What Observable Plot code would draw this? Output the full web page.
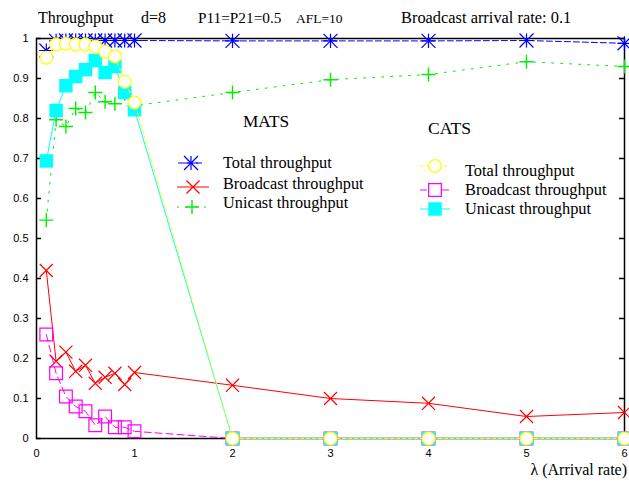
<!DOCTYPE html>
<html>
<head>
<meta charset="utf-8">
<script src="https://cdn.jsdelivr.net/npm/d3@7"></script>
<script src="https://cdn.jsdelivr.net/npm/@observablehq/plot@0.6"></script>
<style>
  html, body { margin: 0; padding: 0; background: white; }
  #wrap { position: relative; width: 629px; height: 482px; }
  #overlay { position: absolute; left: 0; top: 0; pointer-events: none; }
  #overlay text { font-family: "Liberation Serif", "Times New Roman", serif; fill: black; }
</style>
</head>
<body>
<div id="wrap"></div>
<script>
// ---- data ----
const arrivalRate = [0.1, 0.2, 0.3, 0.4, 0.5, 0.6, 0.7, 0.8, 0.9, 1.0, 2, 3, 4, 5, 6];
const matsTotal     = [0.970, 0.994, 0.995, 0.995, 0.995, 0.995, 0.995, 0.995, 0.995, 0.995, 0.994, 0.994, 0.994, 0.995, 0.988];
const matsBroadcast = [0.420, 0.193, 0.216, 0.168, 0.183, 0.138, 0.153, 0.163, 0.135, 0.165, 0.133, 0.100, 0.088, 0.055, 0.065];
const matsUnicast   = [0.546, 0.797, 0.780, 0.825, 0.815, 0.865, 0.842, 0.837, 0.862, 0.832, 0.865, 0.897, 0.910, 0.942, 0.930];
const catsTotal     = [0.952, 0.985, 0.987, 0.985, 0.985, 0.980, 0.967, 0.955, 0.892, 0.840, 0, 0, 0, 0, 0];
const catsBroadcast = [0.260, 0.163, 0.105, 0.080, 0.068, 0.033, 0.055, 0.028, 0.028, 0.018, 0, 0, 0, 0, 0];
const catsUnicast   = [0.694, 0.820, 0.882, 0.905, 0.922, 0.945, 0.915, 0.930, 0.865, 0.822, 0, 0, 0, 0, 0];

const xTicks = [0, 1, 2, 3, 4, 5, 6];
const xTickLabels = ["0", "1", "2", "3", "4", "5", "6"];
const yTicks = [0, 0.1, 0.2, 0.3, 0.4, 0.5, 0.6, 0.7, 0.8, 0.9, 1];
const yTickLabels = ["0", "0.1", "0.2", "0.3", "0.4", "0.5", "0.6", "0.7", "0.8", "0.9", "1"];

const titleParts = ["Throughput", "d=8", "P11=P21=0.5", "AFL=10", "Broadcast arrival rate: 0.1"];
const xLabel = "λ (Arrival rate)";
const groupNames = ["MATS", "CATS"];
const seriesNames = ["Total throughput", "Broadcast throughput", "Unicast throughput"];

// ---- styles ----
const S = {
  matsTotal:     {stroke: "#0000ff", dash: "6,3"},
  matsBroadcast: {stroke: "#ff0000", dash: null},
  matsUnicast:   {stroke: "#00ee00", dash: "2,7"},
  catsTotal:     {stroke: "#ffff00", dash: "3,3"},
  catsBroadcast: {stroke: "#ff00ff", dash: "7,4"},
  catsUnicast:   {stroke: "#00ffff", dash: null}
};

const rows = (vals) => arrivalRate.map((x, i) => ({x, y: vals[i]}));

function lineMark(vals, st) {
  return Plot.line(rows(vals), {x: "x", y: "y", stroke: st.stroke, strokeWidth: 1, strokeDasharray: st.dash || undefined});
}

const W = 629, H = 482, ML = 36, MR = 5, MT = 38, MB = 44;
const innerW = W - ML - MR;

const chart = Plot.plot({
  width: W, height: H,
  marginLeft: ML, marginRight: MR, marginTop: MT, marginBottom: MB,
  x: {domain: [0, 6]},
  y: {domain: [0, 1]},
  style: {fontFamily: "Liberation Sans, Arial, sans-serif", fontSize: "11px", background: "white", color: "black"},
  marks: [
    Plot.axisY(yTicks, {tickSize: 0, tickPadding: 8, tickFormat: d => yTickLabels[yTicks.indexOf(d)], label: null}),
    Plot.axisX(xTicks, {tickSize: 0, tickPadding: 11, tickFormat: d => xTickLabels[xTicks.indexOf(d)], label: null}),
    Plot.tickY(yTicks, {y: d => d, insetRight: innerW - 5, stroke: "black", strokeWidth: 1.5}),
    Plot.tickY(yTicks, {y: d => d, insetLeft: innerW - 5, stroke: "black", strokeWidth: 1.5}),
    Plot.frame({stroke: "black", strokeWidth: 1.5}),
    // MATS
    lineMark(matsBroadcast, S.matsBroadcast),
    Plot.dot(rows(matsBroadcast), {x: "x", y: "y", symbol: "times", r: 6, stroke: S.matsBroadcast.stroke, strokeWidth: 1.2}),
    lineMark(matsUnicast, S.matsUnicast),
    Plot.dot(rows(matsUnicast), {x: "x", y: "y", symbol: "plus", r: 4.6, stroke: S.matsUnicast.stroke, strokeWidth: 1.4}),
    lineMark(matsTotal, S.matsTotal),
    Plot.dot(rows(matsTotal), {x: "x", y: "y", symbol: "plus", r: 4.6, stroke: S.matsTotal.stroke, strokeWidth: 1.2}),
    Plot.dot(rows(matsTotal), {x: "x", y: "y", symbol: "times", r: 6.4, stroke: S.matsTotal.stroke, strokeWidth: 1.2}),
    // CATS
    lineMark(catsBroadcast, S.catsBroadcast),
    Plot.dot(rows(catsBroadcast), {x: "x", y: "y", symbol: "square", r: 7.2, stroke: S.catsBroadcast.stroke, fill: "none", strokeWidth: 1.2}),
    lineMark(catsUnicast, S.catsUnicast),
    Plot.dot(rows(catsUnicast), {x: "x", y: "y", symbol: "square", r: 7.6, fill: S.catsUnicast.stroke, stroke: "none"}),
    lineMark(catsTotal, S.catsTotal),
    Plot.dot(rows(catsTotal), {x: "x", y: "y", symbol: "circle", r: 6.4, stroke: S.catsTotal.stroke, fill: "white", strokeWidth: 1.2})
  ]
});

const wrap = document.getElementById("wrap");
wrap.appendChild(chart);

// ---- overlay: title, axis label, legends ----
const ns = "http://www.w3.org/2000/svg";
const ov = document.createElementNS(ns, "svg");
ov.setAttribute("id", "overlay");
ov.setAttribute("width", W);
ov.setAttribute("height", H);
wrap.appendChild(ov);

function txt(s, x, y, size, anchor) {
  const t = document.createElementNS(ns, "text");
  t.setAttribute("x", x); t.setAttribute("y", y);
  t.setAttribute("font-size", size);
  if (anchor) t.setAttribute("text-anchor", anchor);
  t.textContent = s;
  ov.appendChild(t);
}
function seg(x1, x2, y, st) {
  const l = document.createElementNS(ns, "line");
  l.setAttribute("x1", x1); l.setAttribute("x2", x2);
  l.setAttribute("y1", y); l.setAttribute("y2", y);
  l.setAttribute("stroke", st.stroke); l.setAttribute("stroke-width", 1);
  if (st.dash) l.setAttribute("stroke-dasharray", st.dash);
  ov.appendChild(l);
}
function sym(type, r, x, y, stroke, fill, sw) {
  const p = document.createElementNS(ns, "path");
  p.setAttribute("d", d3.symbol(type, Math.PI * r * r)());
  p.setAttribute("transform", `translate(${x},${y})`);
  p.setAttribute("stroke", stroke || "none");
  p.setAttribute("fill", fill || "none");
  if (sw) p.setAttribute("stroke-width", sw);
  ov.appendChild(p);
}

// title line
const titleX = [38, 141, 198, 296, 401];
const titleSize = [16, 16, 15.3, 13.5, 16.4];
titleParts.forEach((s, i) => txt(s, titleX[i], 23, titleSize[i]));
// x axis label
txt(xLabel, 627, 475, 16, "end");

// MATS legend
txt(groupNames[0], 243, 127, 17.3);
const mY = [163, 187, 207], mT = [168, 188.5, 208];
seg(178, 205, mY[0], S.matsTotal);
sym(d3.symbolPlus, 4.6, 191, mY[0], S.matsTotal.stroke, null, 1.2);
sym(d3.symbolTimes, 6.4, 191, mY[0], S.matsTotal.stroke, null, 1.2);
seg(177, 209, mY[1], S.matsBroadcast);
sym(d3.symbolTimes, 6, 193, mY[1], S.matsBroadcast.stroke, null, 1.2);
seg(177, 207, mY[2], S.matsUnicast);
sym(d3.symbolPlus, 4.6, 192, mY[2], S.matsUnicast.stroke, null, 1.4);
seriesNames.forEach((s, i) => txt(s, 223, mT[i], 16.3));

// CATS legend
txt(groupNames[1], 428, 134, 17.6);
const cY = [166, 190, 209], cT = [176, 195, 214];
seg(420, 450, cY[0], S.catsTotal);
sym(d3.symbolCircle, 6.4, 435, cY[0], S.catsTotal.stroke, "white", 1.2);
seg(420, 450, cY[1], S.catsBroadcast);
sym(d3.symbolSquare, 7.2, 435, cY[1], S.catsBroadcast.stroke, "white", 1.2);
seg(420, 450, cY[2], S.catsUnicast);
sym(d3.symbolSquare, 7.6, 435, cY[2], null, S.catsUnicast.stroke);
seriesNames.forEach((s, i) => txt(s, 465, cT[i], 16.4));
</script>
</body>
</html>
